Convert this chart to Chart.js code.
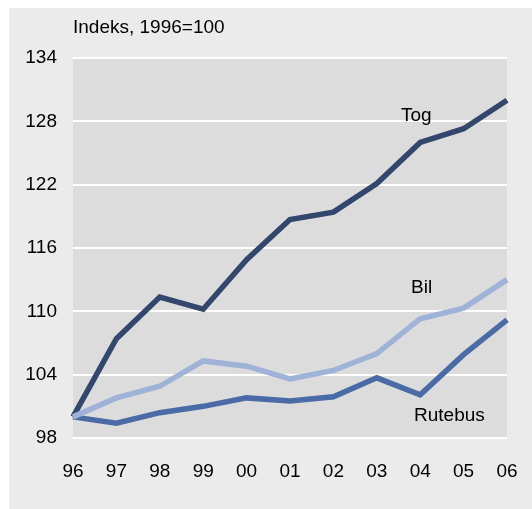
<!DOCTYPE html>
<html>
<head>
<meta charset="utf-8">
<script src="https://cdn.jsdelivr.net/npm/chart.js@4"></script>
<style>
    html, body { margin: 0; padding: 0; background: #ffffff; }
    #panel { position: absolute; left: 9px; top: 8px; width: 523px; height: 501px; background: #ebebeb; }
    #box { position: absolute; left: 0; top: 0; width: 532px; height: 509px; }
</style>
</head>
<body>
<div id="panel"></div>
<div id="box"><canvas id="plot" width="532" height="509"></canvas></div>
<script>
// Data
const years = ["96", "97", "98", "99", "00", "01", "02", "03", "04", "05", "06"];
const tog = [100, 107.4, 111.35, 110.2, 114.9, 118.7, 119.4, 122.1, 126.0, 127.3, 130.0];
const bil = [100, 101.8, 102.9, 105.3, 104.8, 103.6, 104.4, 106.0, 109.3, 110.3, 113.0];
const rutebus = [100, 99.4, 100.4, 101.0, 101.8, 101.5, 101.9, 103.7, 102.1, 105.9, 109.2];
const yTitle = "Indeks, 1996=100";

const fontFamily = "'Liberation Sans', Arial, sans-serif";

// Grey plot area, white gridlines, text labels
const decorations = {
    id: "decorations",
    beforeDatasetsDraw(chart) {
        const { ctx, chartArea, scales } = chart;
        const left = scales.x.getPixelForValue(0);
        const right = scales.x.getPixelForValue(years.length - 1);
        ctx.save();
        ctx.fillStyle = "#dcdcdc";
        ctx.fillRect(left, chartArea.top, right - left, chartArea.bottom - chartArea.top);
        // gridlines
        ctx.strokeStyle = "#ffffff";
        ctx.lineWidth = 2;
        scales.y.ticks.forEach((tick) => {
            const y = Math.round(scales.y.getPixelForValue(tick.value));
            ctx.beginPath();
            ctx.moveTo(left, y);
            ctx.lineTo(right, y);
            ctx.stroke();
        });
        ctx.restore();
    },
    afterDraw(chart) {
        const { ctx } = chart;
        ctx.save();
        ctx.fillStyle = "#000000";
        ctx.font = "19px " + fontFamily;
        ctx.textBaseline = "alphabetic";
        ctx.textAlign = "left";
        ctx.fillText(yTitle, 73, 33);
        ctx.fillText("Tog", 401, 121);
        ctx.fillText("Bil", 411, 293);
        ctx.fillText("Rutebus", 414, 421);
        ctx.restore();
    }
};

function series(label, data, color) {
    return {
        label: label,
        data: data,
        borderColor: color,
        backgroundColor: color,
        borderWidth: 5.5,
        pointRadius: 0,
        tension: 0,
        borderJoinStyle: "miter"
    };
}

new Chart(document.getElementById("plot"), {
    type: "line",
    data: {
        labels: years,
        datasets: [
            series("Bil", bil, "#9fb2d8"),
            series("Rutebus", rutebus, "#4a6ba6"),
            series("Tog", tog, "#33466b")
        ]
    },
    options: {
        responsive: false,
        animation: false,
        layout: { padding: { left: 0, top: 58, right: 0, bottom: 0 } },
        plugins: {
            legend: { display: false },
            tooltip: { enabled: false }
        },
        scales: {
            x: {
                offset: false,
                grid: { display: false, drawTicks: false },
                border: { display: false },
                ticks: {
                    color: "#000000",
                    font: { family: fontFamily, size: 19 },
                    padding: 22,
                    maxRotation: 0,
                    autoSkip: false
                },
                afterFit(scale) {
                    scale.height = 71;
                    scale.paddingLeft = 0;
                    scale.paddingRight = 25;
                }
            },
            y: {
                min: 98,
                max: 134,
                grid: { display: false, drawTicks: false },
                border: { display: false },
                ticks: {
                    stepSize: 6,
                    color: "#000000",
                    font: { family: fontFamily, size: 19 },
                    padding: 16
                },
                afterFit(scale) { scale.width = 73; }
            }
        }
    },
    plugins: [decorations]
});
</script>
</body>
</html>
